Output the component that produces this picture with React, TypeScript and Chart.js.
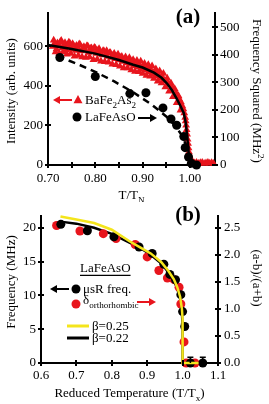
import React, { useEffect, useRef } from 'react';
import { Chart, registerables } from 'chart.js';

Chart.register(...registerables);

const SERIF = '"Liberation Serif", "Times New Roman", Times, serif';
const RED = '#e8151d';
const BLACK = '#000000';
const YELLOW = '#f4e51c';

// ---------------- Panel (a) data ----------------
// BaFe2As2 neutron intensity (left axis, arb. units)
const baT = [
  0.710, 0.714, 0.718, 0.722, 0.726, 0.730, 0.734, 0.738, 0.742, 0.746, 0.750, 0.754, 0.758, 0.762,
  0.766, 0.770, 0.774, 0.778, 0.782, 0.786, 0.790, 0.794, 0.798, 0.802, 0.806, 0.810, 0.814, 0.818,
  0.822, 0.826, 0.830, 0.834, 0.838, 0.842, 0.846, 0.850, 0.854, 0.858, 0.862, 0.866, 0.870, 0.874,
  0.878, 0.882, 0.886, 0.890, 0.894, 0.898, 0.902, 0.906, 0.910, 0.914, 0.918, 0.922, 0.926, 0.930,
  0.934, 0.938, 0.942, 0.946, 0.950, 0.954, 0.958, 0.962, 0.966, 0.970, 0.974, 0.978, 0.981, 0.984,
  0.986, 0.988, 0.990, 0.991, 0.992, 0.993, 0.994, 0.995, 0.996, 0.997, 0.998, 0.999, 1.000, 1.002,
  1.004, 1.006, 1.010, 1.014, 1.018, 1.022, 1.026, 1.030, 1.034, 1.038, 1.042, 1.046, 1.050,
];
const baI = [
  598, 612, 585, 605, 622, 590, 607, 581, 600, 615, 586, 603, 578, 596,
  610, 575, 592, 583, 600, 568, 588, 576, 593, 562, 580, 570, 555, 576,
  558, 548, 566, 543, 556, 536, 550, 530, 544, 522, 535, 515, 526, 508,
  519, 500, 511, 494, 504, 486, 496, 478, 488, 470, 480, 461, 470, 450,
  458, 438, 444, 422, 428, 405, 408, 388, 384, 362, 352, 330, 318, 298,
  282, 262, 240, 222, 200, 178, 155, 130, 108, 86, 66, 48, 34, 22,
  14, 16, 10, 13, 8, 11, 12, 8, 10, 12, 9, 11, 8,
];
// second scan of the same BaFe2As2 measurement (left axis)
const baT2 = [
  0.712, 0.716, 0.720, 0.724, 0.728, 0.732, 0.736, 0.740, 0.744, 0.748, 0.752, 0.756, 0.760, 0.764,
  0.768, 0.772, 0.776, 0.780, 0.784, 0.788, 0.792, 0.796, 0.800, 0.804, 0.808, 0.812, 0.816, 0.820,
  0.824, 0.828, 0.832, 0.836, 0.840, 0.844, 0.848, 0.852, 0.856, 0.860, 0.864, 0.868, 0.872, 0.876,
  0.880, 0.884, 0.888, 0.892, 0.896, 0.900, 0.904, 0.908, 0.912, 0.916, 0.920, 0.924, 0.928, 0.932,
  0.936, 0.940, 0.944, 0.948, 0.952, 0.956, 0.960, 0.964, 0.968, 0.972, 0.976, 0.980,
];
const baI2 = [
  630, 570, 615, 563, 628, 572, 617, 559, 620, 562, 612, 549, 603, 553,
  607, 545, 597, 543, 601, 545, 591, 531, 589, 533, 586, 524, 575, 521,
  576, 519, 567, 508, 563, 506, 559, 498, 547, 490, 545, 490, 541, 480,
  531, 472, 527, 470, 523, 462, 512, 452, 506, 448, 500, 437, 485, 422,
  474, 414, 462, 394, 438, 372, 413, 344, 383, 314, 348, 276,
];
// fit through BaFe2As2 (left axis)
const baFitT = [0.700, 0.750, 0.800, 0.850, 0.880, 0.900, 0.924, 0.940, 0.952, 0.962, 0.972, 0.980, 0.987, 0.991, 0.994, 0.997, 0.999];
const baFitI = [605, 585, 562, 530, 506, 492, 466, 440, 410, 378, 335, 298, 262, 215, 150, 70, 10];

// LaFeAsO muSR frequency squared (right axis, MHz^2)
const laT = [0.725, 0.800, 0.873, 0.907, 0.943, 0.960, 0.972, 0.987, 0.990, 0.997, 1.003, 1.014];
const laF2 = [390, 321, 259, 262, 207, 167, 144, 103, 63, 29, 6, 0];
// dashed fit (right axis)
const laFitT = [0.720, 0.760, 0.800, 0.840, 0.880, 0.920, 0.950, 0.970, 0.980, 0.990, 0.996];
const laFitF2 = [395, 368, 338, 303, 264, 218, 176, 140, 115, 80, 45];

const aXTicks = [0.70, 0.75, 0.80, 0.85, 0.90, 0.95, 1.00];
const aXLabels = ['0.70', '', '0.80', '', '0.90', '', '1.00'];
const aYTicks = [0, 200, 400, 600];
const aY2Ticks = [0, 100, 200, 300, 400, 500];

// ---------------- Panel (b) data ----------------
const muT = [0.656, 0.731, 0.806, 0.877, 0.914, 0.947, 0.964, 0.980, 0.995, 1.000, 1.006];
const muF = [20.5, 19.55, 18.65, 17.15, 16.2, 14.6, 13.1, 12.3, 10.1, 7.6, 5.4];
const muAboveT = [1.022, 1.057];
const muAboveF = [0, 0];
const muAboveErr = [0.85, 0.85];

const deltaT = [0.644, 0.710, 0.776, 0.812, 0.866, 0.900, 0.933, 0.957, 0.976, 0.990, 0.995, 1.004, 1.010, 1.035];
const deltaV = [2.54, 2.44, 2.39, 2.30, 2.19, 1.96, 1.71, 1.57, 1.54, 1.40, 1.09, 0.39, 0, 0];

const b25T = [0.655, 0.700, 0.750, 0.800, 0.850, 0.880, 0.910, 0.940, 0.960, 0.975, 0.985, 0.993, 0.998, 1.000, 1.000, 1.045];
const b25F = [21.65, 21.2, 20.7, 19.7, 18.0, 17.1, 16.2, 14.9, 13.6, 12.4, 11.2, 9.8, 8.0, 6.5, 0, 0];
const b22T = [0.655, 0.700, 0.750, 0.800, 0.850, 0.880, 0.910, 0.940, 0.960, 0.975, 0.985, 0.993, 0.998, 1.000, 1.000, 1.045];
const b22F = [20.9, 20.6, 20.0, 19.1, 17.8, 17.0, 16.0, 14.7, 13.4, 12.2, 11.0, 9.5, 7.5, 5.5, 0, 0];

const bXTicks = [0.6, 0.7, 0.8, 0.9, 1.0, 1.1];
const bXLabels = ['0.6', '0.7', '0.8', '0.9', '1.0', '1.1'];
const bYTicks = [0, 5, 10, 15, 20];
const bY2Ticks = [0, 0.5, 1.0, 1.5, 2.0, 2.5];
const bY2Labels = ['0.0', '0.5', '1.0', '1.5', '2.0', '2.5'];

// ---------------- helpers ----------------
const pts = (xs: number[], ys: number[]) => xs.map((x, i) => ({ x, y: ys[i] }));

type Part = { t: string; sub?: boolean; sup?: boolean };

function drawRich(
  ctx: CanvasRenderingContext2D,
  parts: Part[],
  x: number,
  y: number,
  size: number,
  opts: { rotate?: number; align?: 'left' | 'center'; bold?: boolean; color?: string; underline?: boolean } = {}
) {
  const { rotate = 0, align = 'center', bold = false, color = BLACK, underline = false } = opts;
  const font = (s: number) => `${bold ? 'bold ' : ''}${s}px ${SERIF}`;
  ctx.save();
  ctx.translate(x, y);
  ctx.rotate(rotate);
  let w = 0;
  const ws = parts.map((p) => {
    ctx.font = font(p.sub || p.sup ? size * 0.7 : size);
    const m = ctx.measureText(p.t).width;
    w += m;
    return m;
  });
  let cx = align === 'center' ? -w / 2 : 0;
  const x0 = cx;
  ctx.fillStyle = color;
  ctx.textBaseline = 'alphabetic';
  ctx.textAlign = 'left';
  const base = size * 0.33;
  parts.forEach((p, i) => {
    ctx.font = font(p.sub || p.sup ? size * 0.7 : size);
    const dy = p.sub ? size * 0.28 : p.sup ? -size * 0.38 : 0;
    ctx.fillText(p.t, cx, base + dy);
    cx += ws[i];
  });
  if (underline) {
    ctx.strokeStyle = color;
    ctx.lineWidth = 1.2;
    ctx.beginPath();
    ctx.moveTo(x0, base + 3);
    ctx.lineTo(x0 + w, base + 3);
    ctx.stroke();
  }
  ctx.restore();
}

function drawArrow(ctx: CanvasRenderingContext2D, x1: number, x2: number, y: number, color: string, headLeft: boolean) {
  ctx.save();
  ctx.strokeStyle = color;
  ctx.fillStyle = color;
  ctx.lineWidth = 2;
  const hl = 7;
  ctx.beginPath();
  if (headLeft) {
    ctx.moveTo(x1 + hl - 1, y);
    ctx.lineTo(x2, y);
  } else {
    ctx.moveTo(x1, y);
    ctx.lineTo(x2 - hl + 1, y);
  }
  ctx.stroke();
  ctx.beginPath();
  if (headLeft) {
    ctx.moveTo(x1, y);
    ctx.lineTo(x1 + hl, y - 4);
    ctx.lineTo(x1 + hl, y + 4);
  } else {
    ctx.moveTo(x2, y);
    ctx.lineTo(x2 - hl, y - 4);
    ctx.lineTo(x2 - hl, y + 4);
  }
  ctx.closePath();
  ctx.fill();
  ctx.restore();
}

function drawTickMarks(chart: any) {
  const { ctx, chartArea } = chart;
  ctx.save();
  ctx.strokeStyle = BLACK;
  ctx.lineWidth = 2;
  const half = 3;
  ['x', 'y', 'y2'].forEach((id) => {
    const s = chart.scales[id];
    if (!s) return;
    s.ticks.forEach((t: any) => {
      const p = Math.round(s.getPixelForValue(t.value));
      ctx.beginPath();
      if (id === 'x') {
        ctx.moveTo(p, chartArea.bottom - half);
        ctx.lineTo(p, chartArea.bottom + half);
      } else {
        const ax = id === 'y' ? chartArea.left : chartArea.right;
        ctx.moveTo(ax - half, p);
        ctx.lineTo(ax + half, p);
      }
      ctx.stroke();
    });
  });
  ctx.restore();
}

function dot(ctx: CanvasRenderingContext2D, x: number, y: number, r: number, color: string) {
  ctx.save();
  ctx.fillStyle = color;
  ctx.beginPath();
  ctx.arc(x, y, r, 0, Math.PI * 2);
  ctx.fill();
  ctx.restore();
}

function tri(ctx: CanvasRenderingContext2D, x: number, y: number, r: number, color: string) {
  ctx.save();
  ctx.fillStyle = color;
  ctx.beginPath();
  ctx.moveTo(x, y - r * 1.1);
  ctx.lineTo(x + r, y + r * 0.7);
  ctx.lineTo(x - r, y + r * 0.7);
  ctx.closePath();
  ctx.fill();
  ctx.restore();
}

const tickFont = { family: SERIF, size: 13 };

function yScale(min: number, max: number, pos: 'left' | 'right', width: number, values: number[], labels: string[] | null, pad: number) {
  return {
    type: 'linear',
    position: pos,
    min,
    max,
    afterFit: (s: any) => {
      s.width = width;
    },
    afterBuildTicks: (s: any) => {
      s.ticks = values.map((v) => ({ value: v }));
    },
    ticks: {
      font: tickFont,
      color: BLACK,
      padding: pad,
      autoSkip: false,
      callback: (v: any, i: number) => (labels ? labels[i] : String(values[i])),
    },
    grid: { display: false, drawTicks: false },
    border: { display: true, color: BLACK, width: 2 },
  };
}

function xScale(min: number, max: number, height: number, values: number[], labels: string[], pad: number) {
  return {
    type: 'linear',
    position: 'bottom',
    min,
    max,
    afterFit: (s: any) => {
      s.height = height;
    },
    afterBuildTicks: (s: any) => {
      s.ticks = values.map((v) => ({ value: v }));
    },
    ticks: {
      font: tickFont,
      color: BLACK,
      padding: pad,
      autoSkip: false,
      maxRotation: 0,
      callback: (v: any, i: number) => labels[i],
    },
    grid: { display: false, drawTicks: false },
    border: { display: true, color: BLACK, width: 2 },
  };
}

export default function App() {
  const refA = useRef<HTMLCanvasElement | null>(null);
  const refB = useRef<HTMLCanvasElement | null>(null);

  useEffect(() => {
    const decorA = {
      id: 'decorA',
      afterDraw(chart: any) {
        const ctx = chart.ctx as CanvasRenderingContext2D;
        drawTickMarks(chart);
        drawRich(ctx, [{ t: 'Intensity (arb. units)' }], 11, 91, 13, { rotate: -Math.PI / 2 });
        drawRich(ctx, [{ t: 'Frequency Squared (MHz' }, { t: '2', sup: true }, { t: ')' }], 257, 91, 13, { rotate: Math.PI / 2 });
        drawRich(ctx, [{ t: 'T/T' }, { t: 'N', sub: true }], 131.5, 195, 13);
        drawRich(ctx, [{ t: '(a)' }], 188, 16, 21, { bold: true });
        // legend
        drawArrow(ctx, 53, 72, 100, RED, true);
        tri(ctx, 78, 100, 4.5, RED);
        drawRich(ctx, [{ t: 'BaFe' }, { t: '2', sub: true }, { t: 'As' }, { t: '2', sub: true }], 85, 100, 13, { align: 'left' });
        dot(ctx, 77, 117, 4.5, BLACK);
        drawRich(ctx, [{ t: 'LaFeAsO' }], 85, 117, 13, { align: 'left' });
        drawArrow(ctx, 138, 157, 118, BLACK, false);
      },
    };

    const decorB = {
      id: 'decorB',
      afterDraw(chart: any) {
        const ctx = chart.ctx as CanvasRenderingContext2D;
        const off = 202;
        drawTickMarks(chart);
        // error bars for points above the transition
        const xs = chart.scales.x;
        const ys = chart.scales.y;
        ctx.save();
        ctx.strokeStyle = BLACK;
        ctx.lineWidth = 1.5;
        muAboveT.forEach((t, i) => {
          const px = xs.getPixelForValue(t);
          const py = ys.getPixelForValue(muAboveF[i]);
          const pt = ys.getPixelForValue(muAboveF[i] + muAboveErr[i]);
          ctx.beginPath();
          ctx.moveTo(px, py);
          ctx.lineTo(px, pt);
          ctx.moveTo(px - 3, pt);
          ctx.lineTo(px + 3, pt);
          ctx.stroke();
        });
        ctx.restore();
        drawRich(ctx, [{ t: 'Frequency (MHz)' }], 11, 282 - off, 13, { rotate: -Math.PI / 2 });
        drawRich(ctx, [{ t: '(a-b)/(a+b)' }], 257, 278 - off, 13, { rotate: Math.PI / 2 });
        drawRich(ctx, [{ t: 'Reduced Temperature (T/T' }, { t: 'x', sub: true }, { t: ')' }], 129.5, 393 - off, 13);
        drawRich(ctx, [{ t: '(b)' }], 188, 214 - off, 21, { bold: true });
        // legend
        drawRich(ctx, [{ t: 'LaFeAsO' }], 80, 268 - off, 13, { align: 'left', underline: true });
        drawArrow(ctx, 50, 69, 289 - off, BLACK, true);
        dot(ctx, 76, 289 - off, 4.5, BLACK);
        drawRich(ctx, [{ t: 'μsR freq.' }], 83, 289 - off, 13, { align: 'left' });
        dot(ctx, 76, 304 - off, 4.5, RED);
        drawRich(ctx, [{ t: 'δ' }, { t: 'orthorhombic', sub: true }], 83, 300 - off, 13, { align: 'left' });
        drawArrow(ctx, 137, 156, 302 - off, RED, false);
        ctx.save();
        ctx.lineWidth = 3;
        ctx.strokeStyle = YELLOW;
        ctx.beginPath();
        ctx.moveTo(67, 326 - off);
        ctx.lineTo(89, 326 - off);
        ctx.stroke();
        ctx.strokeStyle = BLACK;
        ctx.beginPath();
        ctx.moveTo(67, 338 - off);
        ctx.lineTo(89, 338 - off);
        ctx.stroke();
        ctx.restore();
        drawRich(ctx, [{ t: 'β=0.25' }], 92, 326 - off, 13, { align: 'left' });
        drawRich(ctx, [{ t: 'β=0.22' }], 92, 338 - off, 13, { align: 'left' });
      },
    };

    const common = {
      animation: false,
      responsive: false,
      events: [],
      plugins: { legend: { display: false }, tooltip: { enabled: false } },
    };

    const redPts = { yAxisID: 'y', pointStyle: 'triangle', pointRadius: 4.5, pointBackgroundColor: RED, pointBorderColor: RED, pointBorderWidth: 0, clip: false, order: 3 };

    const chartA = new Chart(refA.current as HTMLCanvasElement, {
      type: 'scatter',
      data: {
        datasets: [
          { label: 'LaFeAsO', data: pts(laT, laF2), yAxisID: 'y2', pointRadius: 4.5, pointBackgroundColor: BLACK, pointBorderColor: BLACK, pointBorderWidth: 0, clip: false, order: 0 } as any,
          { label: 'BaFe2As2 fit', data: pts(baFitT, baFitI), yAxisID: 'y', showLine: true, borderColor: BLACK, borderWidth: 2.5, pointRadius: 0, order: 1 },
          { label: 'LaFeAsO fit', data: pts(laFitT, laFitF2), yAxisID: 'y2', showLine: true, borderColor: BLACK, borderWidth: 2.5, borderDash: [7, 5], pointRadius: 0, order: 2 },
          { label: 'BaFe2As2', data: pts(baT, baI), ...redPts },
          { label: 'BaFe2As2 (2)', data: pts(baT2, baI2), ...redPts },
        ],
      },
      options: {
        ...common,
        layout: { padding: { top: 5, left: 0, right: 0, bottom: 0 } },
        scales: {
          x: xScale(0.7, 1.053, 37, aXTicks, aXLabels, 6),
          y: yScale(0, 768, 'left', 48, aYTicks, null, 5),
          y2: yScale(0, 552, 'right', 54, aY2Ticks, null, 5),
        },
      } as any,
      plugins: [decorA],
    });

    const chartB = new Chart(refB.current as HTMLCanvasElement, {
      type: 'scatter',
      data: {
        datasets: [
          { label: 'beta=0.25', data: pts(b25T, b25F), yAxisID: 'y', showLine: true, borderColor: YELLOW, borderWidth: 2.5, pointRadius: 0, clip: false, order: 0 },
          { label: 'muSR', data: pts(muT, muF), yAxisID: 'y', pointRadius: 4.5, pointBackgroundColor: BLACK, pointBorderColor: BLACK, pointBorderWidth: 0, clip: false, order: 1 },
          { label: 'muSR above', data: pts(muAboveT, muAboveF), yAxisID: 'y', pointRadius: 4.5, pointBackgroundColor: BLACK, pointBorderColor: BLACK, pointBorderWidth: 0, clip: false, order: 1 },
          { label: 'delta', data: pts(deltaT, deltaV), yAxisID: 'y2', pointRadius: 4.5, pointBackgroundColor: RED, pointBorderColor: RED, pointBorderWidth: 0, clip: false, order: 2 },
          { label: 'beta=0.22', data: pts(b22T, b22F), yAxisID: 'y', showLine: true, borderColor: BLACK, borderWidth: 2.5, pointRadius: 0, clip: false, order: 3 },
        ],
      },
      options: {
        ...common,
        layout: { padding: { top: 0, left: 0, right: 0, bottom: 0 } },
        scales: {
          x: xScale(0.6, 1.1, 41, bXTicks, bXLabels, 5),
          y: yScale(0, 21.76, 'left', 41, bYTicks, null, 5),
          y2: yScale(0, 2.72, 'right', 51, bY2Ticks, bY2Labels, 6),
        },
      } as any,
      plugins: [decorB],
    });

    return () => {
      chartA.destroy();
      chartB.destroy();
    };
  }, []);

  return (
    <div style={{ position: 'absolute', left: 0, top: 0, width: 269, height: 404, background: '#fff' }}>
      <canvas ref={refA} width={269} height={202} style={{ position: 'absolute', left: 0, top: 0 }} />
      <canvas ref={refB} width={269} height={202} style={{ position: 'absolute', left: 0, top: 202 }} />
    </div>
  );
}
